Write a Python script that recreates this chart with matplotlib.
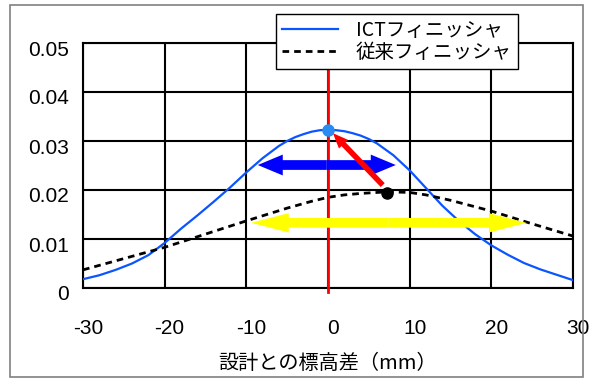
import matplotlib
matplotlib.use('Agg')
import matplotlib.pyplot as plt
import matplotlib.transforms as mtransforms
from matplotlib.patches import FancyArrowPatch, Rectangle
from matplotlib.lines import Line2D

plt.rcParams['font.family'] = ['Liberation Sans', 'Noto Sans CJK JP', 'DejaVu Sans']

# data
ict_x = [-30, -28, -26, -24, -22, -20, -18, -16, -14, -12, -10, -8, -6, -5, -4, -3, -2, -1, 0,
         1, 2, 3, 4, 5, 6, 8, 10, 12, 14, 16, 18, 20, 22, 24, 26, 28, 30]
ict_y = [0.0018, 0.0026, 0.0037, 0.0050, 0.0067, 0.0092, 0.0121, 0.0148, 0.0176, 0.0205,
         0.0236, 0.0265, 0.0290, 0.0300, 0.0308, 0.0314, 0.0319, 0.0322, 0.0323,
         0.0322, 0.0320, 0.0316, 0.0311, 0.0304, 0.0295, 0.0271,
         0.0240, 0.0204, 0.0168, 0.0137, 0.0110, 0.0087, 0.0068, 0.0051, 0.0038, 0.0027, 0.0016]
old_x = [-30, -25, -20, -15, -10, -5, -2, 0, 2, 4, 6, 7, 8, 10, 12, 15, 20, 25, 30]
old_y = [0.0037, 0.0060, 0.0083, 0.0110, 0.0137, 0.0163, 0.0177, 0.0185, 0.0190, 0.0193,
         0.0195, 0.0196, 0.0196, 0.0195, 0.0190, 0.0179, 0.0157, 0.0131, 0.0106]
ict_peak = (0, 0.0323)
old_peak = (7.2, 0.0194)
center_x = 0
blue_span = (-8.6, 8.3, 0.0251)
yellow_span = (-9.4, 24.3, 0.0133)
legend_labels = ['ICTフィニッシャ', '従来フィニッシャ']
xticks = [-30, -20, -10, 0, 10, 20, 30]
yticks = [0, 0.01, 0.02, 0.03, 0.04, 0.05]
ytick_labels = ['0', '0.01', '0.02', '0.03', '0.04', '0.05']

fig = plt.figure(figsize=(5.96, 3.81), dpi=100)
ax = fig.add_axes([83 / 596, 1 - 288 / 381, 490 / 596, 245 / 381])

# outer frame
fig.patches.append(Rectangle((10 / 596, 1 - 377 / 381), 573 / 596, 372 / 381,
                             transform=fig.transFigure, fill=False,
                             edgecolor='#808080', lw=1.2))

ax.plot(ict_x, ict_y, color='#0a55ff', lw=1.6, zorder=4)
ax.plot(old_x, old_y, color='black', lw=2, linestyle=(0, (2.4, 1.8)), zorder=4)

ax.set_xlim(-30, 30)
ax.set_ylim(0, 0.05)
ax.set_xticks(xticks)
ax.set_xticklabels([str(v) for v in xticks])
ax.set_yticks(yticks)
ax.set_yticklabels(ytick_labels)
ax.grid(True, color='black', lw=1.5)
ax.set_axisbelow(True)
ax.tick_params(length=0, labelsize=15)
ax.tick_params(axis='y', pad=10)
ax.tick_params(axis='x', pad=22)
for s in ax.spines.values():
    s.set_linewidth(1.5)

ax.set_xlabel('設計との標高差（mm）', fontsize=14.5, labelpad=11,
              family=['Noto Sans CJK JP', 'DejaVu Sans'])

# red vertical line
ax.plot([center_x, center_x], [-0.0008, 0.046], color='red', lw=2, clip_on=False, zorder=5)


def two_way(x0, x1, y, color, tw, hw, hl):
    mid = (x0 + x1) / 2
    style = 'simple,head_length=%g,head_width=%g,tail_width=%g' % (hl, hw, tw)
    for end in (x0, x1):
        a = FancyArrowPatch((mid, y), (end, y), arrowstyle=style, color=color,
                            mutation_scale=1, lw=0, zorder=6,
                            shrinkA=0, shrinkB=0)
        ax.add_patch(a)


two_way(blue_span[0], blue_span[1], blue_span[2], '#0000ff', 7, 15, 18)
two_way(yellow_span[0], yellow_span[1], yellow_span[2], '#ffff00', 7, 14, 27)

# red arrow from conventional peak to ICT peak
ax.add_patch(FancyArrowPatch((6.7, 0.0210), (0.6, 0.0316),
                             arrowstyle='simple,head_length=11,head_width=9,tail_width=4',
                             color='red', mutation_scale=1, lw=0, zorder=7,
                             shrinkA=0, shrinkB=0))

ax.plot(*ict_peak, 'o', color='#2a8cf0', ms=8, zorder=8)
ax.plot(*old_peak, 'o', color='black', ms=8, zorder=8)

# legend box
handles = [Line2D([], [], color='#0a55ff', lw=1.6),
           Line2D([], [], color='black', lw=2, linestyle=(0, (2.4, 1.8)))]
leg = fig.legend(handles, legend_labels, loc='upper left',
                 bbox_to_anchor=(276 / 596, 1 - 14 / 381),
                 prop={'family': ['Noto Sans CJK JP', 'DejaVu Sans'], 'size': 14},
                 frameon=True, fancybox=False, edgecolor='black', framealpha=1,
                 borderpad=0.3, labelspacing=0.05, handlelength=2.9,
                 handletextpad=0.9, borderaxespad=0)
leg.get_frame().set_linewidth(1)
leg.set_zorder(10)

# Excel places tick labels a little right / below the grid lines
off_x = mtransforms.ScaledTranslation(5 / 100, 0, fig.dpi_scale_trans)
for t in ax.xaxis.get_major_ticks():
    t.label1.set_transform(t.label1.get_transform() + off_x)
off_y = mtransforms.ScaledTranslation(0, -5 / 100, fig.dpi_scale_trans)
for t in ax.yaxis.get_major_ticks():
    t.label1.set_transform(t.label1.get_transform() + off_y)

fig.savefig('out.png', dpi=100)
